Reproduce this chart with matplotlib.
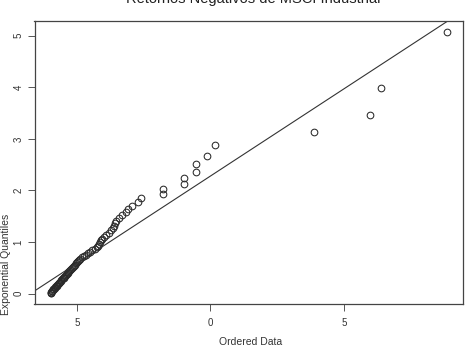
import matplotlib
matplotlib.use("Agg")
import matplotlib.pyplot as plt

plt.rcParams['font.family'] = ['Liberation Sans', 'DejaVu Sans']

title = "Retornos Negativos de MSCI Industrial"
x_label = "Ordered Data"
y_label = "Exponential Quantiles"

# ordered negative returns (x)
ordered_data = [
    0.0402, 0.0403, 0.0404, 0.0405, 0.0407, 0.0410, 0.0412, 0.0414, 0.0416, 0.0419,
    0.0421, 0.0424, 0.0426, 0.0429, 0.0431, 0.0434, 0.0436, 0.0439, 0.0442, 0.0444,
    0.0447, 0.0450, 0.0453, 0.0456, 0.0459, 0.0462, 0.0465, 0.0468, 0.0471, 0.0475,
    0.0478, 0.0482, 0.0485, 0.0489, 0.0492, 0.0496, 0.0500, 0.0504, 0.0508, 0.0512,
    0.0518, 0.0525, 0.0534, 0.0541, 0.0548, 0.0558, 0.0566, 0.0575, 0.0578, 0.0582,
    0.0586, 0.0589, 0.0593, 0.0600, 0.0609, 0.0620, 0.0628, 0.0635, 0.0638, 0.0641,
    0.0648, 0.0659, 0.0669, 0.0682, 0.0691, 0.0707, 0.0729, 0.0741, 0.0821, 0.0823,
    0.0902, 0.0902, 0.0946, 0.0946, 0.0987, 0.1018, 0.1387, 0.1599, 0.1640, 0.1887,
]

# exponential quantiles (y)
exp_quantiles = [
    0.006, 0.019, 0.032, 0.045, 0.058, 0.071, 0.085, 0.098, 0.112, 0.126,
    0.141, 0.155, 0.170, 0.185, 0.200, 0.215, 0.231, 0.247, 0.263, 0.279,
    0.296, 0.313, 0.330, 0.348, 0.366, 0.384, 0.402, 0.421, 0.440, 0.460,
    0.480, 0.500, 0.521, 0.543, 0.564, 0.587, 0.609, 0.633, 0.656, 0.681,
    0.706, 0.731, 0.758, 0.785, 0.813, 0.841, 0.870, 0.901, 0.932, 0.964,
    0.998, 1.032, 1.068, 1.105, 1.143, 1.183, 1.225, 1.269, 1.314, 1.362,
    1.412, 1.464, 1.520, 1.579, 1.641, 1.708, 1.778, 1.855, 1.937, 2.026,
    2.131, 2.242, 2.367, 2.510, 2.677, 2.878, 3.129, 3.466, 3.977, 5.075,
]

# reference line: intercept and slope
line_a = -1.10
line_b = 33.8

x_ticks = [0.05, 0.10, 0.15]
x_tick_labels = ["5", "0", "5"]
y_ticks = [0, 1, 2, 3, 4, 5]

W, H = 466, 349
fig = plt.figure(figsize=(W / 100, H / 100), dpi=100)
ax = fig.add_axes([34.5 / W, 1 - 304 / H, (463 - 34.5) / W, (304 - 21) / H])

ax.plot(ordered_data, exp_quantiles, linestyle='none', marker='o', markersize=4.8,
        markerfacecolor='none', markeredgecolor='#2a2a2a', markeredgewidth=0.75)
ax.axline((0, line_a), slope=line_b, color='#333333', linewidth=0.8)

ax.set_xlim(0.0341, 0.1946)
ax.set_ylim(-0.2, 5.285)
ax.set_xticks(x_ticks)
ax.set_xticklabels(x_tick_labels)
ax.set_yticks(y_ticks)
ax.set_yticklabels([str(v) for v in y_ticks], rotation=90, va='center')
ax.tick_params(axis='both', direction='out', length=5, width=0.7, color='#555555',
               labelsize=7, labelcolor='#333333')
ax.tick_params(axis='x', pad=5)
ax.tick_params(axis='y', pad=3)
for s in ax.spines.values():
    s.set_color('#444444')
    s.set_linewidth(0.9)

fig.text(251 / W, 1 - 342 / H, x_label, ha='center', va='center',
         fontsize=7.5, color='#333333')
fig.text(6 / W, 1 - 264 / H, y_label, ha='center', va='center', rotation=90,
         fontsize=7.5, color='#333333')
# title sits partly above the top edge, as in the reference
fig.text(253 / W, 1 - 3.5 / H, title, ha='center', va='baseline',
         fontsize=10.5, color='#222222')

fig.savefig("out.png", dpi=100)
